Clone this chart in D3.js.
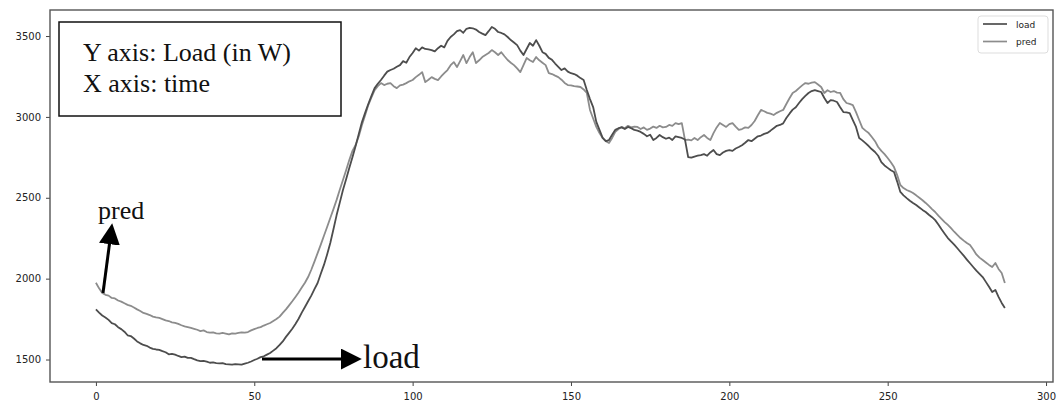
<!DOCTYPE html>
<html>
<head>
<meta charset="utf-8">
<script src="https://cdn.jsdelivr.net/npm/d3@7"></script>
<style>
  body { margin: 0; background: #fff; }
  .tick text { font-family: "DejaVu Sans", sans-serif; font-size: 10px; fill: #222; }
  .tick line { stroke: #444; }
</style>
</head>
<body>
<div id="chart"></div>
<script>
// values, one per time step (0..287)
var loadValues = [
  1810, 1790, 1772, 1760, 1745, 1725, 1718, 1700, 1688, 1672,
  1650, 1645, 1630, 1612, 1600, 1590, 1585, 1574, 1566, 1562,
  1560, 1552, 1545, 1532, 1535, 1530, 1522, 1515, 1518, 1510,
  1510, 1502, 1495, 1490, 1492, 1487, 1480, 1482, 1478, 1476,
  1478, 1472, 1470, 1468, 1472, 1470, 1468, 1474, 1480, 1488,
  1497, 1505, 1515, 1520, 1530, 1540, 1555, 1570, 1590, 1612,
  1640, 1665, 1690, 1720, 1752, 1790, 1825, 1860, 1895, 1935,
  1973, 2030, 2085, 2150, 2220, 2305, 2393, 2470, 2548, 2615,
  2684, 2750, 2820, 2895, 2968, 3025, 3080, 3130, 3178, 3205,
  3228, 3255, 3280, 3290, 3298, 3310, 3320, 3345, 3335, 3370,
  3395, 3425, 3410, 3430, 3420, 3418, 3413, 3405, 3425, 3440,
  3430, 3470, 3494, 3510, 3530, 3537, 3520, 3545, 3550, 3548,
  3540, 3525, 3515, 3506, 3530, 3556, 3545, 3525, 3519, 3510,
  3494, 3475, 3460, 3444, 3410, 3383, 3420, 3457, 3440, 3475,
  3440, 3400, 3390, 3365, 3353, 3330, 3310, 3290, 3300, 3280,
  3270, 3265, 3255, 3240, 3228, 3166, 3110, 3061, 2969, 2920,
  2870, 2850, 2857, 2890, 2920, 2930, 2935, 2925, 2938, 2930,
  2920, 2915, 2907, 2895, 2880, 2890, 2857, 2870, 2888, 2875,
  2865, 2872, 2857, 2880, 2875, 2870, 2860, 2752, 2748, 2755,
  2760, 2764, 2770, 2760, 2780, 2795, 2770, 2764, 2780, 2790,
  2795, 2790, 2805, 2814, 2825, 2840, 2857, 2850, 2865, 2880,
  2885, 2895, 2901, 2915, 2930, 2945, 2950, 2960, 2993, 3020,
  3045, 3060, 3086, 3110, 3130, 3148, 3160, 3166, 3160, 3154,
  3117, 3086, 3104, 3100, 3092, 3060, 3030, 3028, 3024, 2980,
  2938, 2870, 2855, 2838, 2820, 2800, 2783, 2760, 2721, 2700,
  2685, 2670, 2659, 2600, 2536, 2515, 2498, 2482, 2468, 2455,
  2440, 2425, 2412, 2395, 2380, 2362, 2335, 2305, 2278, 2251,
  2230, 2210, 2188, 2165, 2142, 2118, 2095, 2072, 2050, 2030,
  2010, 1980, 1950, 1917, 1930, 1887, 1850, 1818
];

var predValues = [
  1975, 1940, 1912, 1900, 1895, 1881, 1878, 1865, 1858, 1848,
  1838, 1832, 1822, 1810, 1800, 1788, 1782, 1775, 1765, 1760,
  1757, 1750, 1742, 1738, 1730, 1726, 1720, 1712, 1705, 1700,
  1695, 1690, 1684, 1676, 1680, 1670, 1666, 1668, 1662, 1660,
  1664, 1660, 1655, 1662, 1660, 1664, 1668, 1666, 1670, 1680,
  1688, 1695, 1700, 1710, 1718, 1726, 1738, 1750, 1765, 1788,
  1810, 1835, 1860, 1887, 1915, 1945, 1975, 2010, 2055, 2105,
  2158, 2210, 2265, 2319, 2375, 2430, 2487, 2550, 2610, 2670,
  2733, 2790, 2826, 2880, 2950, 3010, 3073, 3120, 3166, 3190,
  3209, 3197, 3205, 3209, 3190, 3178, 3195, 3200, 3209, 3220,
  3228, 3246, 3260, 3277, 3215, 3230, 3246, 3235, 3228, 3250,
  3270, 3290, 3320, 3339, 3308, 3345, 3383, 3333, 3370, 3400,
  3333, 3350, 3370, 3383, 3395, 3413, 3400, 3383, 3400, 3375,
  3352, 3335, 3320, 3300, 3277, 3320, 3364, 3350, 3339, 3370,
  3350, 3335, 3320, 3271, 3265, 3255, 3246, 3230, 3210, 3197,
  3195, 3190, 3188, 3185, 3170, 3148, 3043, 2990, 2938, 2900,
  2870, 2850, 2839, 2870, 2907, 2925, 2938, 2930, 2945, 2935,
  2940, 2938, 2925, 2935, 2920, 2928, 2940, 2932, 2945, 2935,
  2938, 2950, 2945, 2962, 2955, 2962, 2857, 2860, 2855, 2870,
  2857, 2875, 2888, 2870, 2857, 2900, 2935, 2962, 2950, 2938,
  2955, 2962, 2940, 2920, 2925, 2935, 2932, 2950, 2975, 3010,
  3043, 3035, 3025, 3020, 3012, 3025, 3035, 3043, 3080, 3115,
  3148, 3160, 3178, 3195, 3209, 3205, 3212, 3215, 3200, 3185,
  3148, 3165, 3154, 3160, 3150, 3148, 3110, 3086, 3080, 3073,
  3030, 2981, 2932, 2915, 2900, 2876, 2850, 2814, 2790, 2770,
  2746, 2720, 2690, 2640, 2579, 2560, 2548, 2540, 2529, 2515,
  2500, 2485, 2468, 2450, 2430, 2412, 2390, 2370, 2350, 2332,
  2312, 2290, 2270, 2251, 2235, 2220, 2208, 2180, 2150, 2130,
  2115, 2100, 2085, 2072, 2097, 2060, 2035, 1973
];

var seriesNames = ["load", "pred"];
var xTicks = [0, 50, 100, 150, 200, 250, 300];
var yTicks = [1500, 2000, 2500, 3000, 3500];

var W = 1061, H = 401;
var margin = {top: 10, right: 8, bottom: 19, left: 50};
var width = W - margin.left - margin.right,
    height = H - margin.top - margin.bottom;

var colors = {load: "#4d4d4d", pred: "#8c8c8c"};

var svg = d3.select("#chart").append("svg")
    .attr("width", W)
    .attr("height", H)
    .style("background", "#fff");

var g = svg.append("g")
    .attr("transform", "translate(" + margin.left + "," + margin.top + ")");

var x = d3.scaleLinear().domain([-14.5, 302.2]).range([0, width]);
var y = d3.scaleLinear().domain([1361, 3661]).range([height, 0]);

var xAxis = d3.axisBottom(x).tickValues(xTicks).tickSize(4).tickPadding(7)
    .tickFormat(d3.format("d"));
var yAxis = d3.axisLeft(y).tickValues(yTicks).tickSize(4).tickPadding(5)
    .tickFormat(d3.format("d"));

g.append("g")
    .attr("class", "x axis")
    .attr("transform", "translate(0," + height + ")")
    .call(xAxis)
    .call(function(s) { s.select(".domain").remove(); });

g.append("g")
    .attr("class", "y axis")
    .call(yAxis)
    .call(function(s) { s.select(".domain").remove(); });

// lines
var series = {load: loadValues, pred: predValues};
var line = d3.line()
    .x(function(d, i) { return x(i); })
    .y(function(d) { return y(d); });

seriesNames.slice().reverse().forEach(function(name) {
  g.append("path")
      .datum(series[name])
      .attr("fill", "none")
      .attr("stroke", colors[name])
      .attr("stroke-width", 1.8)
      .attr("stroke-linejoin", "round")
      .attr("d", line);
});

// frame
g.append("rect")
    .attr("width", width)
    .attr("height", height)
    .attr("fill", "none")
    .attr("stroke", "#555")
    .attr("stroke-width", 1.4);

// legend
var legend = g.append("g")
    .attr("transform", "translate(" + (width - 75) + ",6)");
legend.append("rect")
    .attr("width", 70)
    .attr("height", 37)
    .attr("rx", 3)
    .attr("fill", "#fff")
    .attr("stroke", "#ddd");
seriesNames.forEach(function(name, i) {
  var ly = 8 + i * 17.5;
  legend.append("line")
      .attr("x1", 5).attr("x2", 29)
      .attr("y1", ly).attr("y2", ly)
      .attr("stroke", colors[name])
      .attr("stroke-width", 1.7);
  legend.append("text")
      .attr("x", 38)
      .attr("y", ly + 3.5)
      .style("font-family", "DejaVu Sans, sans-serif")
      .style("font-size", "9px")
      .attr("fill", "#222")
      .text(name);
});

// annotation box
var serif = "Liberation Serif, Times New Roman, serif";
svg.append("rect")
    .attr("x", 59).attr("y", 22)
    .attr("width", 282).attr("height", 94)
    .attr("fill", "#fff")
    .attr("stroke", "#111")
    .attr("stroke-width", 1.5);
svg.append("text")
    .attr("x", 83).attr("y", 61)
    .style("font-family", serif).style("font-size", "26px")
    .attr("fill", "#111")
    .text("Y axis: Load (in W)");
svg.append("text")
    .attr("x", 83).attr("y", 92)
    .style("font-family", serif).style("font-size", "26px")
    .attr("fill", "#111")
    .text("X axis: time");

// arrows + labels
svg.append("defs").append("marker")
    .attr("id", "head")
    .attr("viewBox", "0 0 10 10")
    .attr("refX", 2).attr("refY", 5)
    .attr("markerWidth", 7).attr("markerHeight", 7)
    .attr("markerUnits", "strokeWidth")
    .attr("orient", "auto")
  .append("path")
    .attr("d", "M0,0 L10,5 L0,10 z")
    .attr("fill", "#000");

svg.append("line")
    .attr("x1", 103).attr("y1", 293)
    .attr("x2", 110).attr("y2", 240)
    .attr("stroke", "#000").attr("stroke-width", 3)
    .attr("marker-end", "url(#head)");
svg.append("text")
    .attr("x", 98).attr("y", 219)
    .style("font-family", serif).style("font-size", "26px")
    .attr("fill", "#111")
    .text("pred");

svg.append("line")
    .attr("x1", 262).attr("y1", 359)
    .attr("x2", 345).attr("y2", 359)
    .attr("stroke", "#000").attr("stroke-width", 3)
    .attr("marker-end", "url(#head)");
svg.append("text")
    .attr("x", 363).attr("y", 368)
    .style("font-family", serif).style("font-size", "33px")
    .attr("fill", "#111")
    .text("load");
</script>
</body>
</html>
